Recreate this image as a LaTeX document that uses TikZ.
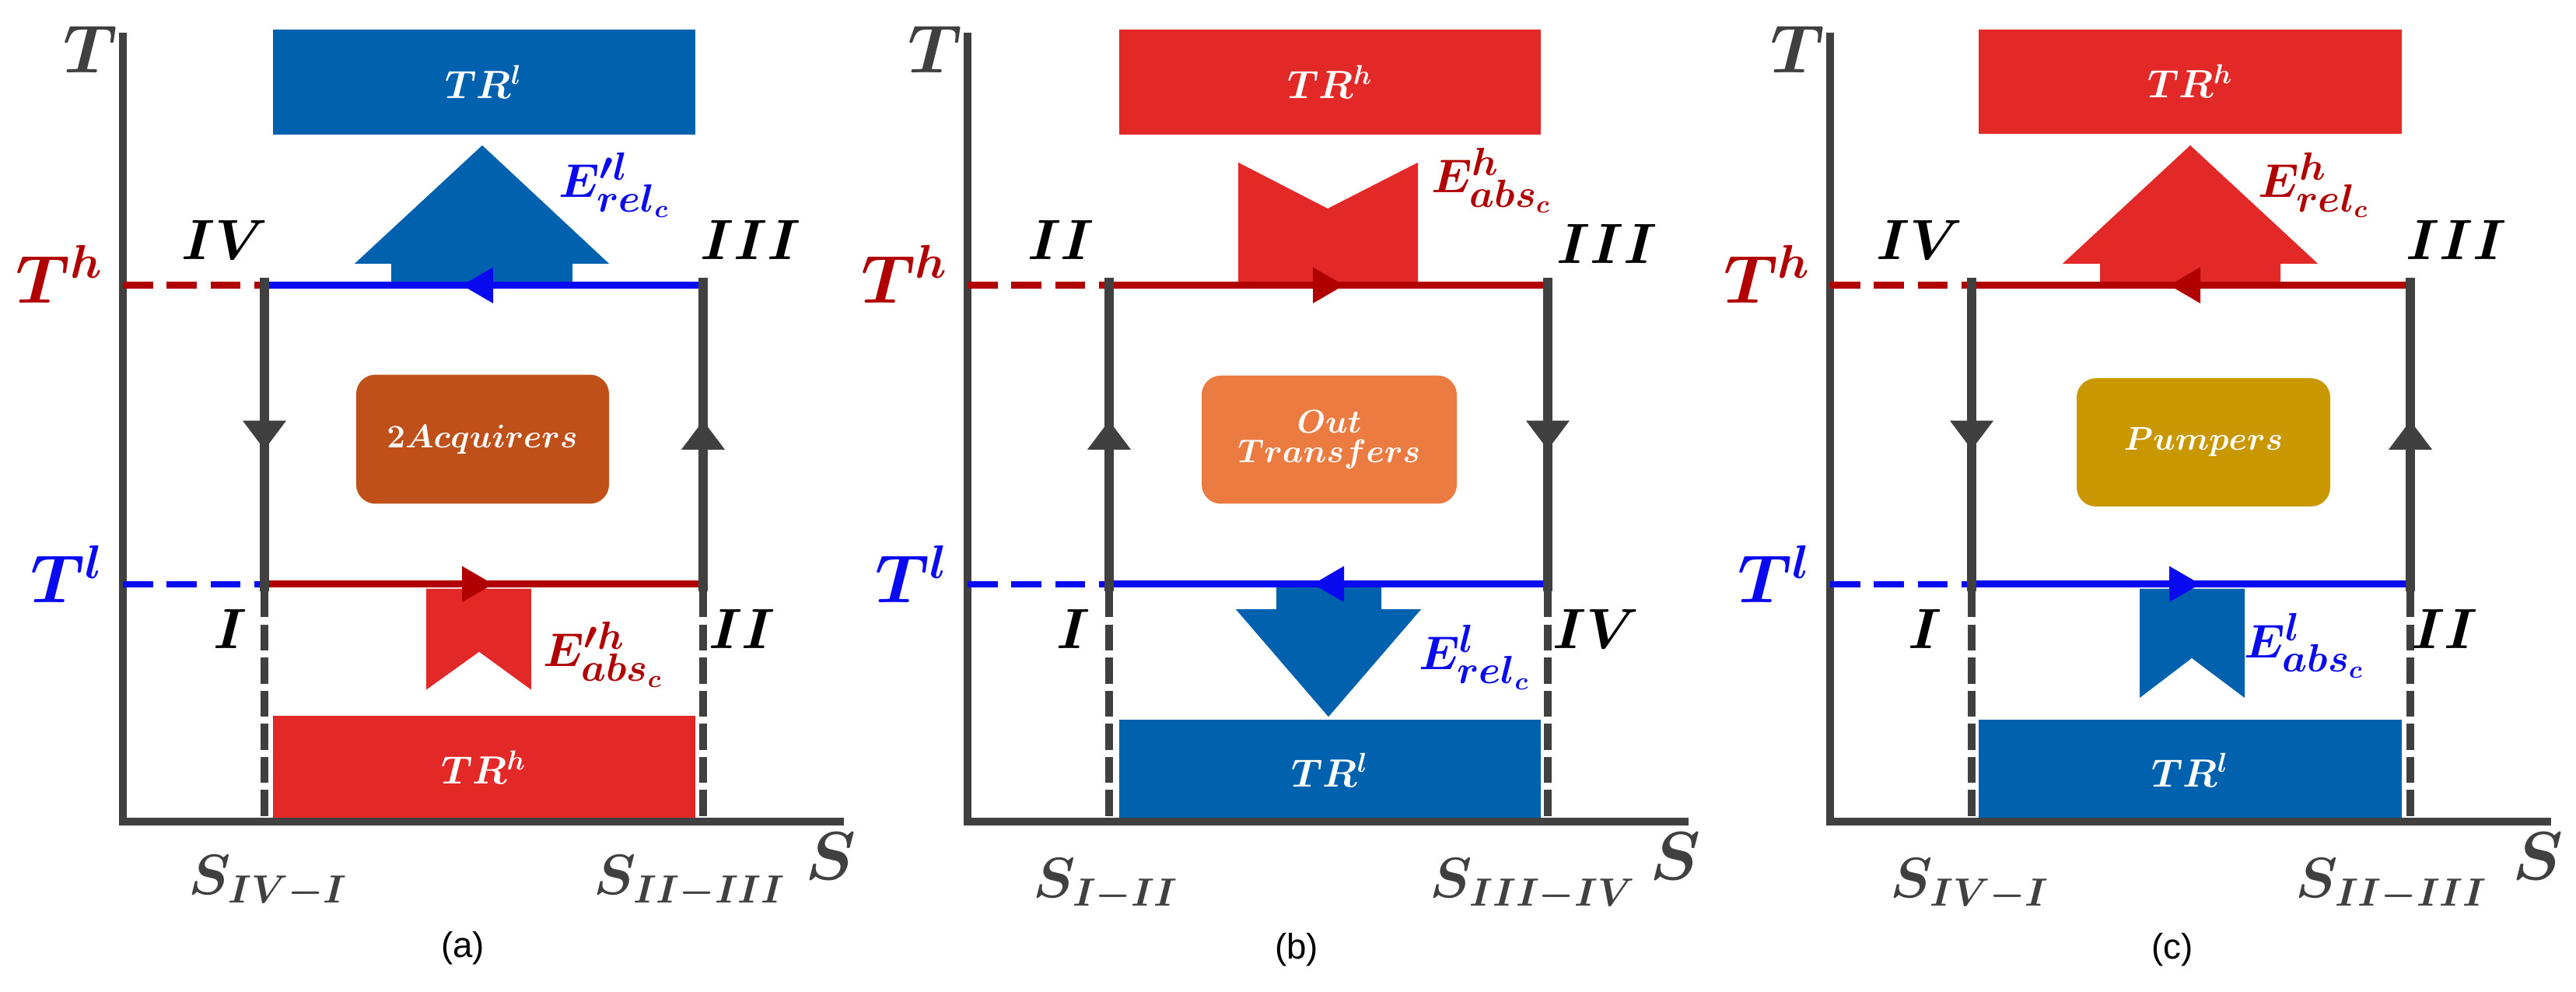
\documentclass[tikz,border=0pt]{standalone}
\usepackage{bm}
\usepackage{fontspec}
\newfontfamily\sansf{Liberation Sans}
\definecolor{axg}{HTML}{404040}
\definecolor{dred}{HTML}{B00000}
\definecolor{lblue}{HTML}{0A0AF0}
\definecolor{bblue}{HTML}{0062AE}
\definecolor{rred}{HTML}{E32828}
\definecolor{cA}{HTML}{BF5019}
\definecolor{cB}{HTML}{EC7B42}
\definecolor{cC}{HTML}{C99700}
\tikzset{
 ax/.style={line width=2.8pt,draw=axg},
 cyc/.style={line width=3.4pt,draw=axg},
 hl/.style={line width=2.6pt},
 hdsh/.style={line width=2.4pt,dash pattern=on 11pt off 5pt},
 vdsh/.style={line width=2.8pt,draw=axg,dash pattern=on 9.5pt off 2.6pt},
 big/.style={font=\fontsize{23}{27}\selectfont},
 sub/.style={text=axg,font=\fontsize{20}{24}\selectfont},
 rom/.style={font=\fontsize{20}{24}\selectfont},
 trl/.style={text=white,font=\fontsize{14}{16}\selectfont},
 elab/.style={font=\fontsize{19}{23}\selectfont},
 ctr/.style={rounded corners=7pt},
 ctxt/.style={text=white,font=\fontsize{13}{15}\selectfont,align=center},
 tag/.style={font=\sansf\fontsize{13}{15}\selectfont}
}
\newcommand\skel[1]{%
 \coordinate (#1o) at (0,910); \coordinate (#1t) at (0,36); \coordinate (#1s) at (927,910);
 \coordinate (#1aH) at (0,316); \coordinate (#1aL) at (0,647);
 \coordinate (#1LH) at (182,316); \coordinate (#1RH) at (746,316);
 \coordinate (#1LL) at (182,647); \coordinate (#1RL) at (746,647);
 \coordinate (#1LB) at (182,910); \coordinate (#1RB) at (746,910);
 \coordinate (#1LHt) at (182,308); \coordinate (#1RHt) at (746,308);
 \coordinate (#1LLb) at (182,655); \coordinate (#1RLb) at (746,655);
 \draw[ax] (#1t) -- (#1o) -- (#1s);
 \draw[hdsh,draw=dred] (#1aH) -- (#1LH);
 \draw[hdsh,draw=lblue] (#1aL) -- (#1LL);
 \draw[vdsh] (#1LLb) -- (#1LB);
 \draw[vdsh] (#1RLb) -- (#1RB);
 \node[big,text=axg] (#1T) at (-42,55) {$\bm{T}$};
 \node[big,text=dred] (#1Th) at (-81,304) {$\bm{T^{h}}$};
 \node[big,text=lblue] (#1Tl) at (-72,636) {$\bm{T^{l}}$};
 \node[big,text=axg] (#1S) at (910,948) {$\bm{S}$};
}
% horizontal arrowheads: colour, center x, y, +1 right / -1 left
\newcommand\harr[4]{\fill[#1] ({#2+#4*20},#3) -- ({#2-#4*20},{#3-20}) -- ({#2-#4*20},{#3+20}) -- cycle;}
% vertical arrowheads: x, y, +1 down / -1 up
\newcommand\varr[3]{\fill[axg] (#1,{#2+#3*16}) -- ({#1-28},{#2-#3*16}) -- ({#1+28},{#2-#3*16}) -- cycle;}
\begin{document}
\begin{tikzpicture}[x=0.01cm,y=-0.01159cm]
\useasboundingbox (0,0) rectangle (3312,1098.4);
%================ (a)
\begin{scope}[shift={(158,0)}]
 \fill[bblue] (193,33) rectangle (736,149);
 \node[trl] (aTop) at (464,91) {$\bm{TR^{l}}$};
 \fill[rred] (193,793) rectangle (736,907);
 \node[trl] (aBot) at (464,850) {$\bm{TR^{h}}$};
 \skel{a}
 \fill[bblue] (345,316) -- (345,292) -- (298,292) -- (462,161) -- (625,292) -- (578,292) -- (578,316) -- cycle;
 \fill[rred] (390,652) -- (525,652) -- (525,764) -- (458,722) -- (390,764) -- cycle;
 \draw[hl,draw=lblue] (aLH) -- (aRH);
 \draw[hl,draw=dred] (aLL) -- (aRL);
 \draw[cyc] (aLHt) -- (aLLb);
 \draw[cyc] (aRHt) -- (aRLb);
 \harr{lblue}{456}{316}{-1}
 \harr{dred}{456}{647}{1}
 \varr{182}{482}{1}
 \varr{746}{482}{-1}
 \fill[cA,ctr] (300,415) rectangle (625,558);
 \node[ctxt] (aC) at (462,487) {$\bm{2Acquirers}$};
 \node[rom] (aIV) at (131,266) {$\bm{IV}$};
 \node[rom] (aIII) at (807,266) {$\bm{III}$};
 \node[rom] (aI) at (138,697) {$\bm{I}$};
 \node[rom] (aII) at (796,697) {$\bm{II}$};
 \node[elab,text=lblue,anchor=west] (aE1) at (548,205) {$\bm{E'^{l}_{rel_c}}$};
 \node[elab,text=dred,anchor=west] (aE2) at (528,725) {$\bm{E'^{h}_{abs_c}}$};
 \node[sub] (aS1) at (187,977) {$\bm{S_{IV-I}}$};
 \node[sub] (aS2) at (729,977) {$\bm{S_{II-III}}$};
 \node[tag] (aTag) at (437,1050) {(a)};
\end{scope}
%================ (b)
\begin{scope}[shift={(1244,0)}]
 \fill[rred] (195,33) rectangle (737,149);
 \node[trl] (bTop) at (466,91) {$\bm{TR^{h}}$};
 \fill[bblue] (195,797) rectangle (737,910);
 \node[trl] (bBot) at (466,853) {$\bm{TR^{l}}$};
 \skel{b}
 \fill[rred] (348,180) -- (463,231) -- (579,180) -- (579,316) -- (348,316) -- cycle;
 \fill[bblue] (397,650) -- (532,650) -- (532,675) -- (583,675) -- (464,794) -- (345,675) -- (397,675) -- cycle;
 \draw[hl,draw=dred] (bLH) -- (bRH);
 \draw[hl,draw=lblue] (bLL) -- (bRL);
 \draw[cyc] (bLHt) -- (bLLb);
 \draw[cyc] (bRHt) -- (bRLb);
 \harr{dred}{464}{316}{1}
 \harr{lblue}{464}{647}{-1}
 \varr{182}{482}{-1}
 \varr{746}{482}{1}
 \fill[cB,ctr] (301,416) rectangle (629,558);
 \node[ctxt] (bC) at (465,487) {$\bm{Out}$\\[-4pt]$\bm{Transfers}$};
 \node[rom] (bII) at (120,266) {$\bm{II}$};
 \node[rom] (bIII) at (822,270) {$\bm{III}$};
 \node[rom] (bI) at (136,697) {$\bm{I}$};
 \node[rom] (bIV) at (808,697) {$\bm{IV}$};
 \node[elab,text=dred,anchor=west] (bE1) at (584,200) {$\bm{E^{h}_{abs_c}}$};
 \node[elab,text=lblue,anchor=west] (bE2) at (568,728) {$\bm{E^{l}_{rel_c}}$};
 \node[sub] (bS1) at (178,980) {$\bm{S_{I-II}}$};
 \node[sub] (bS2) at (727,980) {$\bm{S_{III-IV}}$};
 \node[tag] (bTag) at (423,1052) {(b)};
\end{scope}
%================ (c)
\begin{scope}[shift={(2353,0)}]
 \fill[rred] (191,33) rectangle (735,148);
 \node[trl] (cTop) at (463,90) {$\bm{TR^{h}}$};
 \fill[bblue] (191,797) rectangle (735,910);
 \node[trl] (cBot) at (463,853) {$\bm{TR^{l}}$};
 \skel{c}
 \fill[rred] (347,316) -- (347,292) -- (299,292) -- (463,161) -- (627,292) -- (579,292) -- (579,316) -- cycle;
 \fill[bblue] (398,652) -- (533,652) -- (533,773) -- (465,729) -- (398,773) -- cycle;
 \draw[hl,draw=dred] (cLH) -- (cRH);
 \draw[hl,draw=lblue] (cLL) -- (cRL);
 \draw[cyc] (cLHt) -- (cLLb);
 \draw[cyc] (cRHt) -- (cRLb);
 \harr{dred}{456}{316}{-1}
 \harr{lblue}{456}{647}{1}
 \varr{182}{482}{1}
 \varr{746}{482}{-1}
 \fill[cC,ctr] (317,419) rectangle (643,561);
 \node[ctxt] (cC) at (480,490) {$\bm{Pumpers}$};
 \node[rom] (cIV) at (115,266) {$\bm{IV}$};
 \node[rom] (cIII) at (805,266) {$\bm{III}$};
 \node[rom] (cI) at (122,697) {$\bm{I}$};
 \node[rom] (cII) at (790,697) {$\bm{II}$};
 \node[elab,text=dred,anchor=west] (cE1) at (538,205) {$\bm{E^{h}_{rel_c}}$};
 \node[elab,text=lblue,anchor=west] (cE2) at (520,715) {$\bm{E^{l}_{abs_c}}$};
 \node[sub] (cS1) at (180,980) {$\bm{S_{IV-I}}$};
 \node[sub] (cS2) at (722,980) {$\bm{S_{II-III}}$};
 \node[tag] (cTag) at (440,1052) {(c)};
\end{scope}
\end{tikzpicture}
\end{document}
